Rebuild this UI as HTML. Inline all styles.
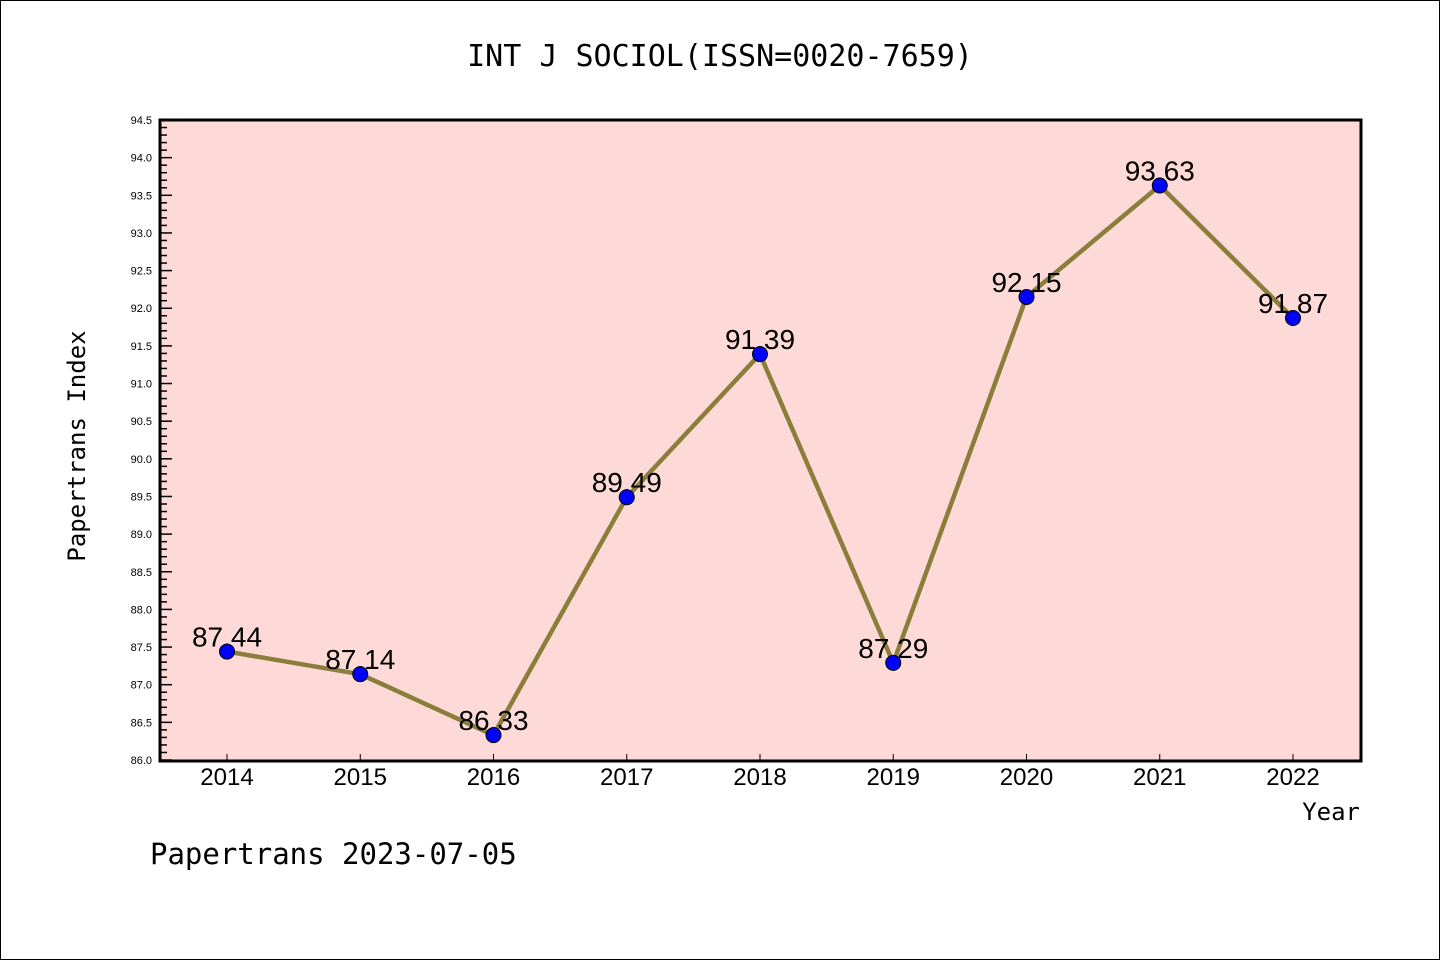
<!DOCTYPE html>
<html><head><meta charset="utf-8"><style>
html,body{margin:0;padding:0;background:#fff;}
svg{display:block;font-family:"Liberation Sans","DejaVu Sans",sans-serif;}
</style></head><body>
<svg id="chart" width="1440" height="960" viewBox="0 0 1440 960">
<rect x="0.5" y="0.5" width="1439" height="959" fill="#fff" stroke="#000" stroke-width="1"/>
<text x="720" y="66" text-anchor="middle" font-size="30" font-family="'DejaVu Sans Mono','Liberation Mono',monospace">INT J SOCIOL(ISSN=0020-7659)</text>
<rect x="160" y="120" width="1201" height="641" fill="#fddad7"/>
<g id="yaxis"></g>
<g id="xaxis"></g>
<g id="series"></g>
<rect x="160" y="120" width="1201" height="641" fill="none" stroke="#000" stroke-width="3"/>
<text transform="translate(85,446) rotate(-90)" text-anchor="middle" font-size="24" font-family="'DejaVu Sans Mono','Liberation Mono',monospace">Papertrans Index</text>
<text x="1360" y="820" text-anchor="end" font-size="24" font-family="'DejaVu Sans Mono','Liberation Mono',monospace">Year</text>
<text x="150" y="864" font-size="29" font-family="'DejaVu Sans Mono','Liberation Mono',monospace">Papertrans 2023-07-05</text>
</svg>
<script>
const years = [2014,2015,2016,2017,2018,2019,2020,2021,2022];
const values = [87.44,87.14,86.33,89.49,91.39,87.29,92.15,93.63,91.87];
const valueLabels = ["87.44","87.14","86.33","89.49","91.39","87.29","92.15","93.63","91.87"];
const yTicks = ["86.0","86.5","87.0","87.5","88.0","88.5","89.0","89.5","90.0","90.5","91.0","91.5","92.0","92.5","93.0","93.5","94.0","94.5"];
const yMin = 86.0, yMax = 94.5;
const NS = "http://www.w3.org/2000/svg";
function ys(v){ return 760 - (v - yMin) / (yMax - yMin) * 640; }
function xs(i){ return 227 + i * (1293 - 227) / (years.length - 1); }
function mk(tag, attrs, parent){ const e = document.createElementNS(NS, tag); for (const k in attrs) e.setAttribute(k, attrs[k]); parent.appendChild(e); return e; }
const ya = document.getElementById('yaxis');
for (let v = yMin; v <= yMax + 1e-9; v += 0.1) {
  const r = Math.round(v * 10) / 10;
  const major = Math.abs(r * 2 - Math.round(r * 2)) < 1e-6;
  const t = mk('line', {x1:160, x2:160 + (major ? 12 : 7), y1:ys(r), y2:ys(r), stroke:'#000', 'stroke-width':1.5}, ya);
  
  
}
yTicks.forEach(s => {
  const t = mk('text', {x:152, y:ys(parseFloat(s)) + 4, 'text-anchor':'end', 'font-size':11}, ya);
  t.textContent = s;
  
  
});
const xa = document.getElementById('xaxis');
years.forEach((y, i) => {
  const t = mk('line', {x1:xs(i), x2:xs(i), y1:760, y2:754, stroke:'#000', 'stroke-width':1}, xa);
  
  
  const l = mk('text', {x:xs(i), y:785, 'text-anchor':'middle', 'font-size':24}, xa);
  l.textContent = y;
  
  
});
const sg = document.getElementById('series');
const line = mk('polyline', {points: values.map((v, i) => xs(i) + ',' + ys(v)).join(' '), fill:'none', stroke:'#8b7d3a', 'stroke-width':4.5, 'stroke-linejoin':'round'}, sg);


values.forEach((v, i) => {
  const t = mk('text', {x:xs(i), y:ys(v) - 5, 'text-anchor':'middle', 'font-size':28}, sg);
  t.textContent = valueLabels[i];
  
  
});
values.forEach((v, i) => {
  const c = mk('circle', {cx:xs(i), cy:ys(v), r:7.5, fill:'#0000ff', stroke:'#000', 'stroke-width':1}, sg);
  
  
});
</script>
</body></html>
